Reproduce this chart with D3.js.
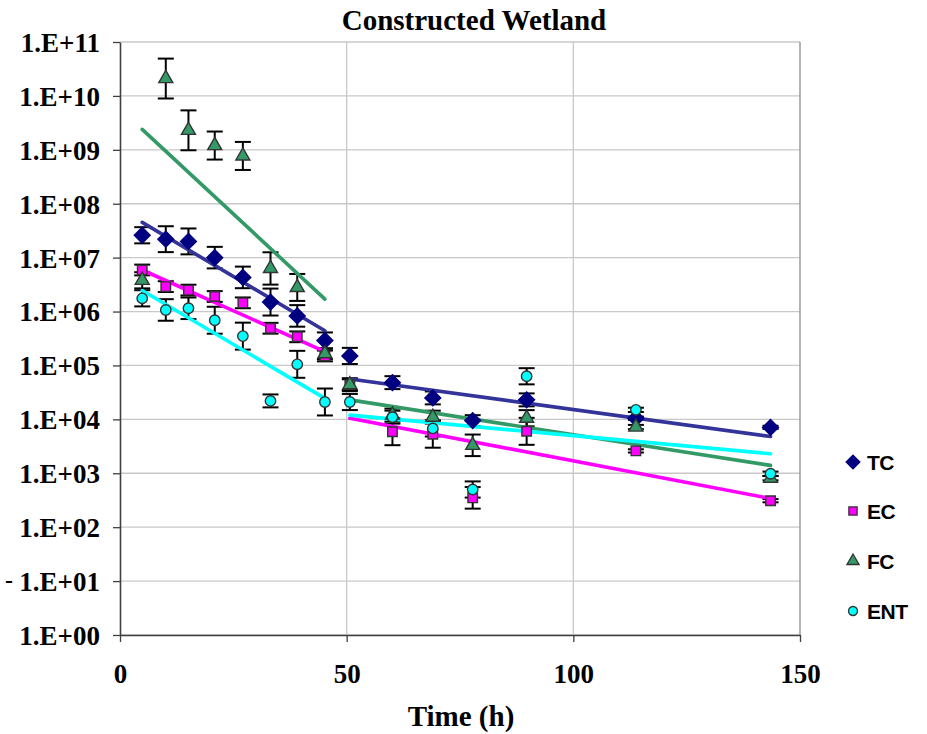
<!DOCTYPE html>
<html>
<head>
<meta charset="utf-8">
<script src="https://cdn.jsdelivr.net/npm/d3@7"></script>
<style>
  body { margin: 0; background: #fff; }
  svg { display: block; }
</style>
</head>
<body>
<svg id="chart" width="927" height="734"></svg>
<script>
// sampling times (h)
var times = [4.9, 10.1, 15.1, 20.9, 27.1, 33.2, 39.1, 45.2, 50.7, 60.1, 69.0, 77.8, 89.7, 113.8, 143.5];

// counts
var tcValues  = [2.6e7, 2.2e7, 2.0e7, 1.0e7, 4.3e6, 1.5e6, 8.3e5, 2.9e5, 1.5e5, 4.8e4, 2.5e4, 9.5e3, 2.3e4, 1.05e4, 7.1e3];
var ecValues  = [5.9e6, 2.9e6, 2.5e6, 1.9e6, 1.45e6, 4.9e5, 3.4e5, 1.5e5, 4.4e4, 5.9e3, 5.3e3, 3.5e2, 6.0e3, 2.6e3, 3.1e2];
var fcValues  = [3.8e6, 2.1e10, 2.3e9, 1.2e9, 7.7e8, 6.3e6, 2.8e6, 1.65e5, 4.4e4, 1.2e4, 1.1e4, 3.3e3, 1.05e4, 7.2e3, 8.1e2];
var entValues = [1.76e6, 1.07e6, 1.15e6, 6.9e5, 3.5e5, 2.2e4, 1.05e5, 2.1e4, 2.1e4, 1.1e4, 6.8e3, 5.0e2, 6.3e4, 1.5e4, 9.8e2];

// error bar half widths, in decades
var tcErr  = [0.15, 0.24, 0.24, 0.2, 0.2, 0.25, 0.2, 0.15, 0.15, 0.12, 0.12, 0.1, 0.12, 0.03, 0.03];
var ecErr  = [0.1, 0.1, 0.1, 0.1, 0.1, 0.1, 0.1, 0.1, 0.1, 0.25, 0.25, 0.2, 0.25, 0.03, 0.03];
var fcErr  = [0.15, 0.37, 0.37, 0.26, 0.26, 0.3, 0.25, 0.1, 0.12, 0.12, 0.12, 0.2, 0.15, 0.04, 0.04];
var entErr = [0.15, 0.2, 0.2, 0.25, 0.25, 0.12, 0.25, 0.25, 0.15, 0.12, 0.15, 0.15, 0.15, 0.04, 0.04];

// exponential trend lines, two phases each: [t, value] end points
var tcTrend  = [[[4.9, 4.5e7], [45.2, 4.4e5]], [[50.7, 5.6e4], [143.5, 4.8e3]]];
var ecTrend  = [[[4.9, 5.9e6], [45.2, 1.8e5]], [[50.7, 1.05e4], [143.5, 3.4e2]]];
var fcTrend  = [[[4.9, 2.4e9], [45.2, 1.7e6]], [[50.7, 2.3e4], [143.5, 1.4e3]]];
var entTrend = [[[4.9, 2.45e6], [45.2, 2.45e4]], [[50.7, 1.2e4], [143.5, 2.3e3]]];

var seriesNames = ['TC', 'EC', 'FC', 'ENT'];
var xTicks = [0, 50, 100, 150];
var yTicks = [1, 1e1, 1e2, 1e3, 1e4, 1e5, 1e6, 1e7, 1e8, 1e9, 1e10, 1e11];

var series = [
  {name: 'TC',  values: tcValues,  err: tcErr,  trend: tcTrend,  shape: d3.symbolDiamond2, size: 160, fill: '#000080', stroke: '#000080', line: '#333399'},
  {name: 'EC',  values: ecValues,  err: ecErr,  trend: ecTrend,  shape: d3.symbolSquare,   size: 90,  fill: '#ff00ff', stroke: '#333333', line: '#ff00ff'},
  {name: 'FC',  values: fcValues,  err: fcErr,  trend: fcTrend,  shape: d3.symbolTriangle, size: 85,  fill: '#339966', stroke: '#333333', line: '#339966'},
  {name: 'ENT', values: entValues, err: entErr, trend: entTrend, shape: d3.symbolCircle,   size: 85,  fill: '#00ffff', stroke: '#333333', line: '#00ffff'}
];

var svg = d3.select('#chart');
var x = d3.scaleLinear().domain([0, 150]).range([120, 800]);
var y = d3.scaleLog().domain([1, 1e11]).range([635, 42]);

var serif = '"Liberation Serif", "Times New Roman", Times, serif';

// grid
var grid = svg.append('g');
grid.selectAll('line.h').data(yTicks).enter().append('line')
  .attr('x1', x(0)).attr('x2', x(150))
  .attr('y1', function(d) { return y(d); }).attr('y2', function(d) { return y(d); })
  .attr('stroke', '#c8c8c8').attr('stroke-width', 1.3);
grid.selectAll('line.v').data([50, 100]).enter().append('line')
  .attr('x1', function(d) { return x(d); }).attr('x2', function(d) { return x(d); })
  .attr('y1', y(1e11)).attr('y2', y(1))
  .attr('stroke', '#c8c8c8').attr('stroke-width', 1.3);
grid.append('line')
  .attr('x1', x(150)).attr('x2', x(150)).attr('y1', y(1e11)).attr('y2', y(1))
  .attr('stroke', '#9a9a9a').attr('stroke-width', 1.5);

// axes
var yAxis = svg.append('g')
  .attr('transform', 'translate(' + x(0) + ',0)')
  .call(d3.axisLeft(y).tickValues(yTicks).tickSize(7).tickSizeOuter(0)
    .tickFormat(function(d) {
      var e = Math.round(Math.log10(d));
      return '1.E+' + (e < 10 ? '0' + e : e);
    }));
yAxis.select('.domain').attr('stroke', '#404040').attr('stroke-width', 1.6);
yAxis.selectAll('.tick line').attr('stroke', '#404040').attr('stroke-width', 1.3);
yAxis.selectAll('.tick text')
  .attr('x', -20).attr('dy', '0.35em')
  .style('font-family', serif).style('font-size', '27px').style('font-weight', 'bold')
  .attr('fill', '#000');

var xAxis = svg.append('g')
  .attr('transform', 'translate(0,' + y(1) + ')')
  .call(d3.axisBottom(x).tickValues(xTicks).tickSize(7).tickSizeOuter(0).tickFormat(d3.format('d')));
xAxis.select('.domain').attr('stroke', '#404040').attr('stroke-width', 1.6);
xAxis.selectAll('.tick line').attr('stroke', '#404040').attr('stroke-width', 1.3);
xAxis.selectAll('.tick text')
  .attr('x', 0).attr('y', 29).attr('dy', '0.71em')
  .style('font-family', serif).style('font-size', '27px').style('font-weight', 'bold')
  .attr('fill', '#000');

// error bars
var errG = svg.append('g');
series.forEach(function(s) {
  s.values.forEach(function(v, i) {
    var lo = v / Math.pow(10, s.err[i]);
    var hi = v * Math.pow(10, s.err[i]);
    var cx = x(times[i]);
    var g = errG.append('g').attr('stroke', '#000').attr('stroke-width', 2);
    g.append('line').attr('x1', cx).attr('x2', cx).attr('y1', y(lo)).attr('y2', y(hi));
    g.append('line').attr('x1', cx - 8).attr('x2', cx + 8).attr('y1', y(lo)).attr('y2', y(lo));
    g.append('line').attr('x1', cx - 8).attr('x2', cx + 8).attr('y1', y(hi)).attr('y2', y(hi));
  });
});

// trend lines
var lineGen = d3.line()
  .x(function(d) { return x(d[0]); })
  .y(function(d) { return y(d[1]); });
var trendG = svg.append('g');
series.forEach(function(s) {
  s.trend.forEach(function(seg) {
    trendG.append('path')
      .attr('d', lineGen(seg))
      .attr('fill', 'none')
      .attr('stroke', s.line)
      .attr('stroke-width', 3.6)
      .attr('stroke-linecap', 'round');
  });
});

// markers
var markG = svg.append('g');
series.forEach(function(s) {
  markG.append('g').selectAll('path')
    .data(s.values)
    .enter()
    .append('path')
    .attr('d', d3.symbol().type(s.shape).size(s.size))
    .attr('transform', function(d, i) {
      return 'translate(' + x(times[i]) + ',' + y(d) + ')';
    })
    .attr('fill', s.fill)
    .attr('stroke', s.stroke)
    .attr('stroke-width', 1.4);
});

// legend
var legend = svg.append('g');
var legendY = [462, 511, 561, 611];
series.forEach(function(s, i) {
  legend.append('path')
    .attr('d', d3.symbol().type(s.shape).size(s.size * 0.75))
    .attr('transform', 'translate(853,' + legendY[i] + ')')
    .attr('fill', s.fill)
    .attr('stroke', s.stroke)
    .attr('stroke-width', 1.3);
  legend.append('text')
    .attr('x', 867).attr('y', legendY[i] + 8)
    .style('font-family', '"Liberation Sans", Arial, sans-serif')
    .style('font-size', '21px').style('font-weight', 'bold')
    .style('letter-spacing', '-0.5px')
    .text(seriesNames[i]);
});

// titles
svg.append('text')
  .attr('x', 474).attr('y', 30)
  .attr('text-anchor', 'middle')
  .style('font-family', serif).style('font-size', '29px').style('font-weight', 'bold')
  .text('Constructed Wetland');

svg.append('text')
  .attr('x', 461).attr('y', 726)
  .attr('text-anchor', 'middle')
  .style('font-family', serif).style('font-size', '29px').style('font-weight', 'bold')
  .text('Time (h)');

// stray mark left of the y axis
svg.append('text')
  .attr('x', 9).attr('y', 588)
  .attr('text-anchor', 'middle')
  .style('font-family', serif).style('font-size', '24px').style('font-weight', 'bold')
  .text('-');
</script>
</body>
</html>
